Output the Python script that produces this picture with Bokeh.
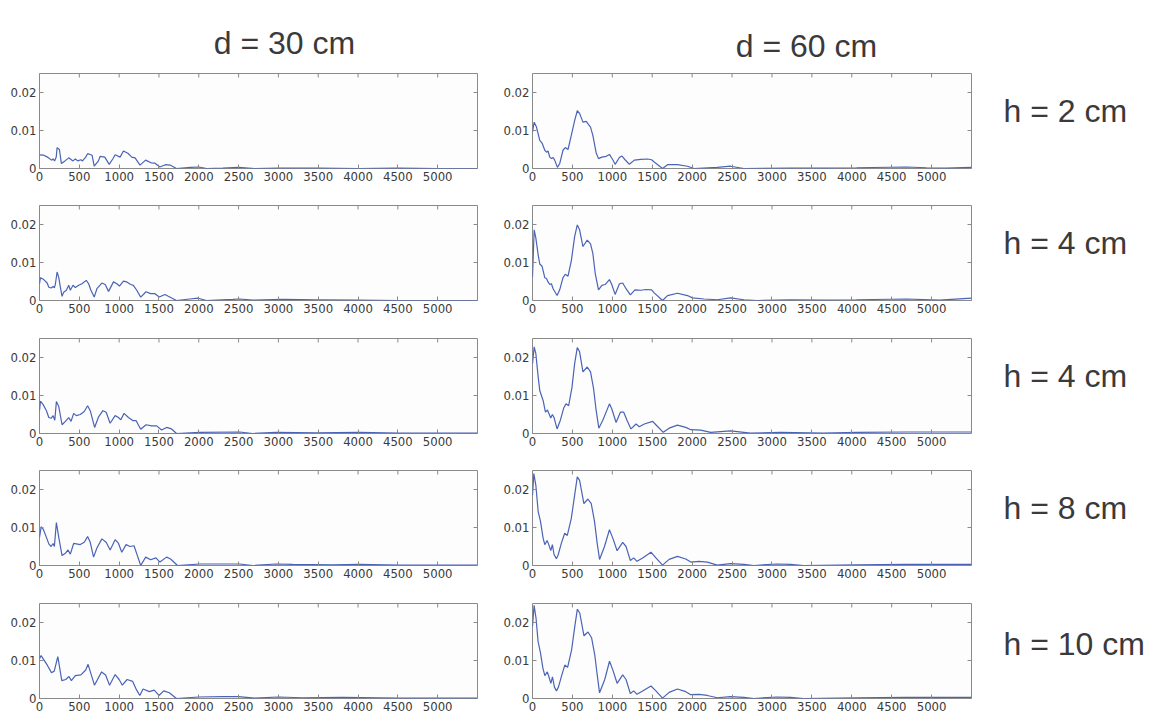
import math
from bokeh.plotting import figure
from bokeh.layouts import column, row
from bokeh.models import Range1d, FixedTicker, LinearAxis, NumeralTickFormatter, Spacer
from bokeh.core.properties import value
from bokeh.embed import file_html
from bokeh.resources import INLINE

# ---------------- data ----------------
col_titles = ["d = 30 cm", "d = 60 cm"]
row_labels = ["h = 2 cm", "h = 4 cm", "h = 4 cm", "h = 8 cm", "h = 10 cm"]
x_ticks = [0, 500, 1000, 1500, 2000, 2500, 3000, 3500, 4000, 4500, 5000]
y_ticks = [0, 0.01, 0.02]
x_max = 5500
y_max = 0.025

# d = 30 cm
f_d30_h2 = [0, 54, 100, 150, 170, 190, 210, 221, 250, 275, 320, 367, 420, 450, 480, 520, 540, 580, 604, 660,
            687, 740, 762, 820, 875, 920, 950, 1012, 1054, 1110, 1158, 1200, 1262, 1333, 1400, 1450, 1512,
            1580, 1640, 1720, 1900, 2000, 2100, 2300, 2500, 2700, 3000, 3500, 4000, 4500, 5000, 5500]
a_d30_h2 = [0.0036, 0.0035, 0.003, 0.0022, 0.0025, 0.002, 0.003, 0.0055, 0.005, 0.0013, 0.002, 0.0028, 0.002,
            0.0025, 0.002, 0.0023, 0.002, 0.003, 0.0039, 0.0035, 0.0006, 0.002, 0.0032, 0.003, 0.0011, 0.0025,
            0.0036, 0.003, 0.0046, 0.004, 0.003, 0.0028, 0.0009, 0.0022, 0.0015, 0.0014, 0.0004, 0.001, 0.0009,
            0.0, 0.0003, 0.0004, 0.0, 0.0001, 0.0003, 0.0, 0.0001, 0.0001, 0.0, 0.0001, 0.0, 0.0]

f_d30_h4a = [0, 12, 54, 96, 117, 146, 171, 187, 200, 221, 242, 262, 283, 304, 337, 367, 387, 421, 450, 492,
             533, 587, 617, 646, 687, 721, 783, 825, 867, 929, 971, 1004, 1054, 1096, 1146, 1179, 1221, 1271,
             1338, 1396, 1450, 1504, 1575, 1617, 1721, 1887, 1992, 2096, 2429, 2512, 2679, 3054, 3471, 4000,
             4500, 5500]
a_d30_h4a = [0.0044, 0.006, 0.0055, 0.0046, 0.0035, 0.0033, 0.0037, 0.0033, 0.0044, 0.0075, 0.006, 0.0035,
             0.0011, 0.0022, 0.0027, 0.004, 0.0027, 0.004, 0.0034, 0.004, 0.0044, 0.0053, 0.0044, 0.0027, 0.0009,
             0.0031, 0.0046, 0.0042, 0.0024, 0.0049, 0.0044, 0.0038, 0.0051, 0.0049, 0.0042, 0.004, 0.0027,
             0.0009, 0.0023, 0.0018, 0.0018, 0.0009, 0.0016, 0.0011, 0.0, 0.0004, 0.0006, 0.0, 0.0003, 0.0004,
             0.0001, 0.0003, 0.0002, 0.0001, 0.0, 0.0]

f_d30_h4b = [0, 12, 46, 87, 117, 146, 171, 192, 212, 242, 283, 325, 367, 396, 429, 462, 512, 562, 604, 637,
             692, 742, 796, 837, 887, 950, 992, 1021, 1062, 1117, 1171, 1212, 1271, 1338, 1408, 1471, 1533,
             1596, 1658, 1721, 2012, 2512, 2679, 2971, 3471, 4012, 4512, 5500]
a_d30_h4b = [0.006, 0.0085, 0.0076, 0.006, 0.0042, 0.004, 0.0047, 0.0035, 0.0084, 0.0071, 0.0023, 0.0032,
             0.0042, 0.0032, 0.0053, 0.0047, 0.005, 0.0058, 0.0073, 0.006, 0.0016, 0.0044, 0.006, 0.0056,
             0.0027, 0.0047, 0.0042, 0.0036, 0.0053, 0.0042, 0.0034, 0.0034, 0.0011, 0.0023, 0.002, 0.002,
             0.0009, 0.0016, 0.0012, 0.0, 0.0003, 0.0004, 0.0, 0.0003, 0.0002, 0.0003, 0.0001, 0.0001]

f_d30_h8 = [0, 21, 46, 87, 117, 146, 171, 187, 212, 242, 283, 325, 358, 387, 429, 462, 512, 562, 604, 637,
            679, 721, 783, 837, 887, 950, 992, 1033, 1087, 1137, 1187, 1229, 1271, 1333, 1396, 1462, 1512,
            1596, 1646, 1733, 2012, 2512, 2679, 2971, 3179, 3679, 4012, 4512, 5500]
a_d30_h8 = [0.0074, 0.0102, 0.0096, 0.0074, 0.0057, 0.005, 0.0058, 0.005, 0.0113, 0.0074, 0.0026, 0.0032,
            0.0041, 0.003, 0.0058, 0.0057, 0.0055, 0.0061, 0.0076, 0.0061, 0.0022, 0.0046, 0.007, 0.0061,
            0.0041, 0.0068, 0.0058, 0.0035, 0.0055, 0.005, 0.0052, 0.0026, 0.0, 0.0022, 0.0015, 0.002, 0.0009,
            0.0022, 0.0017, 0.0, 0.0004, 0.0004, 0.0, 0.0004, 0.0003, 0.0002, 0.0003, 0.0001, 0.0001]

f_d30_h10 = [0, 20, 100, 150, 185, 230, 280, 330, 370, 400, 450, 520, 580, 610, 690, 780, 830, 880, 950,
             1000, 1040, 1100, 1170, 1220, 1260, 1300, 1380, 1440, 1500, 1560, 1630, 1720, 2000, 2300, 2500,
             2700, 3000, 3300, 3800, 4500, 5500]
a_d30_h10 = [0.0105, 0.0113, 0.0087, 0.0068, 0.0072, 0.011, 0.0047, 0.005, 0.0058, 0.0047, 0.006, 0.0062,
             0.0075, 0.009, 0.0035, 0.007, 0.0062, 0.0035, 0.0063, 0.005, 0.0035, 0.005, 0.0045, 0.0022, 0.0008,
             0.0025, 0.0018, 0.0022, 0.0008, 0.002, 0.0015, 0.0, 0.0004, 0.0005, 0.0005, 0.0001, 0.0004,
             0.0002, 0.0003, 0.0001, 0.0001]

# d = 60 cm
f_d60_h2 = [0, 21, 50, 91, 120, 154, 175, 195, 216, 237, 258, 278, 312, 341, 382, 411, 445, 486, 528, 561,
            590, 632, 673, 727, 756, 798, 827, 869, 923, 964, 1006, 1035, 1089, 1118, 1160, 1214, 1276, 1359,
            1442, 1492, 1525, 1629, 1692, 1816, 1941, 2024, 2315, 2481, 2648, 3230, 3645, 4060, 4684, 4934,
            5183, 5500]
a_d60_h2 = [0.0096, 0.0122, 0.0109, 0.0074, 0.0067, 0.0048, 0.0043, 0.0046, 0.003, 0.0026, 0.0029, 0.0022,
            0.0003, 0.0013, 0.0048, 0.0055, 0.005, 0.0087, 0.0126, 0.0152, 0.0145, 0.0122, 0.0124, 0.0109,
            0.0087, 0.0041, 0.0026, 0.003, 0.0032, 0.0037, 0.0023, 0.0011, 0.0029, 0.0033, 0.0023, 0.0011,
            0.0022, 0.0024, 0.0025, 0.0023, 0.0017, 0.0, 0.001, 0.001, 0.0006, 0.0, 0.0003, 0.0006, 0.0,
            0.0001, 0.0001, 0.0002, 0.0004, 0.0002, 0.0001, 0.0003]

f_d60_h4a = [0, 21, 42, 71, 91, 120, 154, 175, 195, 216, 237, 258, 308, 341, 382, 411, 445, 486, 528, 561,
             590, 632, 686, 727, 756, 786, 827, 869, 910, 964, 993, 1035, 1089, 1130, 1172, 1226, 1284, 1359,
             1421, 1492, 1525, 1629, 1692, 1816, 1941, 2003, 2149, 2315, 2481, 2648, 2814, 3230, 3645, 4061,
             4684, 5100, 5500]
a_d60_h4a = [0.0062, 0.0186, 0.0164, 0.012, 0.0096, 0.009, 0.006, 0.0058, 0.0049, 0.0042, 0.0044, 0.0031,
             0.0013, 0.0028, 0.006, 0.0069, 0.0064, 0.0104, 0.0168, 0.0199, 0.0186, 0.0142, 0.0159, 0.0149,
             0.0124, 0.0071, 0.0028, 0.004, 0.0042, 0.0055, 0.0042, 0.0016, 0.0044, 0.0046, 0.0031, 0.0015,
             0.0028, 0.0027, 0.0029, 0.0028, 0.002, 0.0, 0.0013, 0.0019, 0.0013, 0.0007, 0.0004, 0.0002,
             0.0007, 0.0002, 0.0, 0.0002, 0.0001, 0.0002, 0.0004, 0.0001, 0.0006]

f_d60_h4b = [0, 21, 42, 71, 91, 133, 162, 187, 204, 229, 249, 270, 308, 349, 391, 420, 453, 495, 528, 561,
             590, 632, 686, 727, 765, 798, 831, 881, 964, 993, 1047, 1101, 1143, 1185, 1234, 1297, 1338, 1401,
             1505, 1546, 1638, 1712, 1816, 1920, 1983, 2107, 2232, 2481, 2731, 3105, 3645, 4061, 4684, 5500]
a_d60_h4b = [0.0184, 0.0228, 0.021, 0.0149, 0.0113, 0.0087, 0.0056, 0.0062, 0.0053, 0.0041, 0.005, 0.0042,
             0.0012, 0.0035, 0.0067, 0.0078, 0.0073, 0.0122, 0.0184, 0.0226, 0.0215, 0.0162, 0.0175, 0.0162,
             0.0118, 0.006, 0.0014, 0.0035, 0.0078, 0.0065, 0.0029, 0.0056, 0.0056, 0.0034, 0.0012, 0.0025,
             0.0018, 0.0025, 0.0032, 0.0023, 0.0003, 0.0014, 0.0022, 0.0016, 0.001, 0.0009, 0.0003, 0.0007,
             0.0001, 0.0003, 0.0001, 0.0003, 0.0004, 0.0004]

f_d60_h8 = [0, 17, 42, 71, 100, 133, 154, 183, 204, 229, 249, 270, 299, 320, 362, 403, 436, 486, 528, 561,
            590, 644, 694, 736, 777, 810, 840, 902, 964, 1006, 1060, 1130, 1172, 1226, 1268, 1309, 1380, 1484,
            1546, 1629, 1712, 1816, 1920, 1983, 2086, 2190, 2315, 2481, 2648, 2773, 3063, 3230, 3396, 4061,
            4684, 5500]
a_d60_h8 = [0.0185, 0.0242, 0.0211, 0.0142, 0.0116, 0.0072, 0.0055, 0.0066, 0.0055, 0.0039, 0.0055, 0.0029,
            0.0018, 0.0027, 0.0059, 0.0085, 0.0079, 0.0124, 0.0185, 0.0233, 0.0224, 0.0163, 0.0175, 0.0163,
            0.0116, 0.0059, 0.0016, 0.005, 0.0094, 0.0072, 0.0039, 0.0061, 0.005, 0.0013, 0.002, 0.0011, 0.002,
            0.0035, 0.002, 0.0001, 0.0016, 0.0024, 0.0017, 0.0009, 0.0011, 0.0009, 0.0001, 0.0005, 0.0003, 0.0,
            0.0004, 0.0003, 0.0, 0.0002, 0.0003, 0.0003]

f_d60_h10 = [0, 20, 45, 70, 100, 130, 155, 185, 205, 230, 250, 275, 300, 325, 365, 405, 440, 490, 530, 562,
             592, 645, 695, 740, 780, 812, 840, 905, 965, 1005, 1060, 1130, 1172, 1226, 1268, 1309, 1380, 1484,
             1546, 1629, 1712, 1816, 1920, 1983, 2086, 2190, 2315, 2481, 2648, 2773, 3063, 3230, 3396, 4061,
             4684, 5500]
a_d60_h10 = [0.019, 0.0245, 0.021, 0.015, 0.012, 0.008, 0.006, 0.007, 0.0058, 0.004, 0.0057, 0.003, 0.002,
             0.003, 0.006, 0.0088, 0.0082, 0.0128, 0.019, 0.0235, 0.0225, 0.0165, 0.0175, 0.016, 0.0115, 0.006,
             0.0015, 0.005, 0.0098, 0.0076, 0.004, 0.0062, 0.005, 0.0013, 0.002, 0.0011, 0.002, 0.0033, 0.002,
             0.0001, 0.0016, 0.0025, 0.0018, 0.001, 0.0011, 0.0008, 0.0002, 0.0005, 0.0003, 0.0, 0.0004, 0.0003,
             0.0, 0.0002, 0.0003, 0.0003]

left_series = [(f_d30_h2, a_d30_h2), (f_d30_h4a, a_d30_h4a), (f_d30_h4b, a_d30_h4b),
               (f_d30_h8, a_d30_h8), (f_d30_h10, a_d30_h10)]
right_series = [(f_d60_h2, a_d60_h2), (f_d60_h4a, a_d60_h4a), (f_d60_h4b, a_d60_h4b),
                (f_d60_h8, a_d60_h8), (f_d60_h10, a_d60_h10)]

# ---------------- style ----------------
LINE = "#4a63b6"
BOX = "#8a8a8a"
TXT = "#3a3a3a"
TICK_FONT = "Liberation Sans Narrow, DejaVu Sans Condensed, sans-serif"
BIG_FONT = "Liberation Sans"
row_heights = [132, 133, 132, 133, 122]
HEADER_H = 68


def panel(freq, amp, width, mb_left, mb_right, height):
    p = figure(width=width, height=height, x_range=Range1d(0, x_max), y_range=Range1d(0, y_max),
               output_backend="svg", toolbar_location=None,
               min_border_left=mb_left, min_border_right=mb_right,
               min_border_top=5, min_border_bottom=height - 100,
               x_axis_type=None, y_axis_type=None)
    p.grid.visible = False
    p.outline_line_color = BOX
    p.outline_line_width = 1
    p.background_fill_color = "#fdfdfd"
    p.border_fill_color = "white"

    xb = LinearAxis(ticker=FixedTicker(ticks=x_ticks))
    yl = LinearAxis(ticker=FixedTicker(ticks=y_ticks), formatter=NumeralTickFormatter(format="0.[00]"))
    for ax in (xb, yl):
        ax.axis_line_color = None
        ax.major_tick_in = 4
        ax.major_tick_out = 0
        ax.minor_tick_line_color = None
        ax.major_tick_line_color = BOX
        ax.major_label_text_color = TXT
        ax.major_label_text_font = TICK_FONT
        ax.major_label_text_font_size = "13px"
        ax.major_label_standoff = 3
    p.add_layout(xb, "below")
    p.add_layout(yl, "left")

    # inner tick marks on the top and right edges of the box (clipped to the frame)
    p.scatter(x=x_ticks, y=[y_max] * len(x_ticks), marker="dash", angle=math.pi / 2, size=8,
              line_color=BOX, line_width=1)
    p.scatter(x=[x_max] * len(y_ticks), y=y_ticks, marker="dash", size=8,
              line_color=BOX, line_width=1)

    p.line(freq, amp, line_color=LINE, line_width=1.2)
    return p


def text_fig(width, height, txt, x, y, size, align, baseline):
    p = figure(width=width, height=height, x_range=Range1d(0, width), y_range=Range1d(height, 0),
               output_backend="svg", toolbar_location=None, min_border=0,
               x_axis_type=None, y_axis_type=None)
    p.grid.visible = False
    p.outline_line_color = None
    p.background_fill_color = "white"
    p.border_fill_color = "white"
    p.text(x=[x], y=[y], text=[txt], text_font=value(BIG_FONT), text_font_size=f"{size}px",
           text_align=align, text_baseline=baseline, text_color=TXT)
    return p


header = row(
    text_fig(500, HEADER_H, col_titles[0], 284, 42, 32, "center", "alphabetic"),
    text_fig(480, HEADER_H, col_titles[1], 306, 45, 32, "center", "alphabetic"),
    Spacer(width=174, height=HEADER_H),
    spacing=0,
)

rows = [header]
for i in range(5):
    h = row_heights[i]
    lp = panel(left_series[i][0], left_series[i][1], 500, 39, 23, h)
    rp = panel(right_series[i][0], right_series[i][1], 480, 31, 9, h)
    lab = text_fig(174, h, row_labels[i], 23, 52.5, 32, "left", "middle")
    rows.append(row(lp, rp, lab, spacing=0))

layout = column(*rows, spacing=0)

open("out.html", "w").write(file_html(layout, INLINE))
